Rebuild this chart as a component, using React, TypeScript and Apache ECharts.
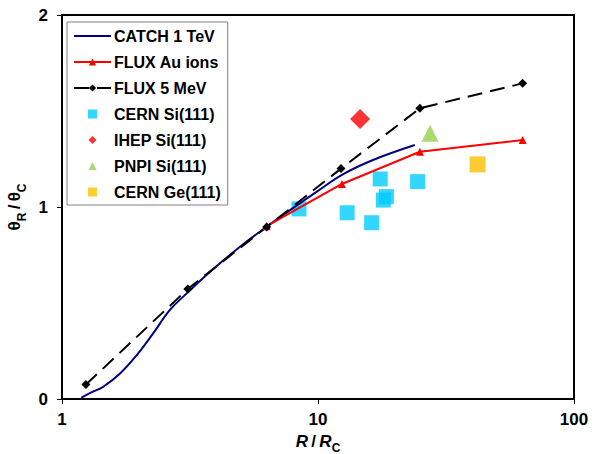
import React, { useEffect, useRef } from "react";
import * as echarts from "echarts";

const catchX = [1.19, 1.32, 1.45, 1.69, 1.96, 2.27, 2.64, 3.07, 3.79, 4.96, 6.3, 7.3, 9.9, 12.5, 16.4, 23.9];
const catchY = [0.007, 0.038, 0.064, 0.134, 0.229, 0.342, 0.464, 0.55, 0.663, 0.793, 0.897, 0.958, 1.08, 1.17, 1.245, 1.323];

const fluxAuX = [6.3, 12.4, 25, 63];
const fluxAuY = [0.9, 1.12, 1.288, 1.349];

const flux5X = [1.24, 3.1, 6.3, 12.3, 25, 63];
const flux5Y = [0.075, 0.573, 0.896, 1.2, 1.514, 1.644];

const cernSiX = [8.43, 13.0, 16.2, 17.5, 18.0, 18.5, 24.5];
const cernSiY = [0.99, 0.97, 0.918, 1.146, 1.036, 1.054, 1.132];

const ihepX = [14.6];
const ihepY = [1.458];

const pnpiX = [27.4];
const pnpiY = [1.384];

const cernGeX = [42.0];
const cernGeY = [1.222];

const yTicks = [0, 1, 2];

const zip = (xs: number[], ys: number[]) => xs.map((x, i) => [x, ys[i]]);

// legend icons: small marker centred in a 37x9 box (corner points fix the box)
const BOX = "M0,0L0,0M37,9L37,9";
const iconSquare = "path://" + BOX + "M14,0h9v9h-9z";
const iconDiamond = "path://" + BOX + "M18.5,0.5L22.5,4.5L18.5,8.5L14.5,4.5z";
const iconTriangle = "path://" + BOX + "M18.5,0.5L22.5,8.5L14.5,8.5z";

export default function App() {
  const ref = useRef<HTMLDivElement>(null);
  useEffect(() => {
    if (!ref.current) return;
    const chart = echarts.init(ref.current, null, { renderer: "svg" });
    const font = "Arial, 'Liberation Sans', sans-serif";
    const nameRich = {
      i: { fontFamily: font, fontWeight: "bold", fontStyle: "italic", fontSize: 17, color: "#000", lineHeight: 20 },
      t: { fontFamily: font, fontWeight: "bold", fontSize: 17, color: "#000", lineHeight: 20 },
      n: { fontFamily: font, fontWeight: "bold", fontSize: 17, color: "#000", lineHeight: 20 },
      s: { fontFamily: font, fontWeight: "bold", fontSize: 12, color: "#000", lineHeight: 20, verticalAlign: "bottom", padding: [0, 0, -3, 0] },
    };
    chart.setOption({
      animation: false,
      backgroundColor: "#fff",
      textStyle: { fontFamily: font },
      grid: {
        left: 62,
        top: 15,
        right: 18,
        bottom: 55,
        show: true,
        borderColor: "#000",
        borderWidth: 2,
        backgroundColor: "transparent",
        containLabel: false,
        outerBoundsMode: "none",
      },
      legend: {
        orient: "vertical",
        left: 67,
        top: 22,
        itemWidth: 37,
        itemHeight: 9,
        itemGap: 10,
        symbolKeepAspect: true,
        padding: [6, 7, 5, 6],
        borderColor: "#808080",
        borderWidth: 1,
        backgroundColor: "#fff",
        textStyle: { fontFamily: font, fontWeight: "bold", fontSize: 16, color: "#000", padding: [0, 0, 0, -2] },
        data: [
          { name: "CATCH 1 TeV", itemStyle: { opacity: 0 } },
          "FLUX Au ions",
          "FLUX 5 MeV",
          { name: "CERN Si(111)", icon: iconSquare },
          { name: "IHEP Si(111)", icon: iconDiamond },
          { name: "PNPI Si(111)", icon: iconTriangle },
          { name: "CERN Ge(111)", icon: iconSquare },
        ],
      },
      xAxis: {
        type: "log",
        logBase: 10,
        min: 1,
        max: 100,
        splitLine: { show: false },
        minorTick: { show: false },
        axisLine: { show: true, lineStyle: { color: "#000", width: 2 } },
        axisTick: { show: true, length: 5, lineStyle: { color: "#000", width: 1 } },
        axisLabel: { fontFamily: font, fontWeight: "bold", fontSize: 17, color: "#000", margin: 12 },
        name: "{i|R} {n|/} {i|R}{s|C}",
        nameLocation: "middle",
        nameGap: 31,
        nameTextStyle: { rich: nameRich },
      },
      yAxis: {
        type: "value",
        min: yTicks[0],
        max: yTicks[yTicks.length - 1],
        interval: 1,
        splitLine: { show: false },
        axisLine: { show: true, lineStyle: { color: "#000", width: 2 } },
        axisTick: { show: true, length: 5, lineStyle: { color: "#000", width: 1 } },
        axisLabel: { fontFamily: font, fontWeight: "bold", fontSize: 17, color: "#000", margin: 14 },
        name: "{t|θ}{s|R} {n|/} {t|θ}{s|C}",
        nameLocation: "middle",
        nameRotate: 90,
        nameGap: 25,
        nameTextStyle: { rich: nameRich, padding: [0, 0, 12, 0] },
      },
      series: [
        {
          name: "CATCH 1 TeV",
          type: "line",
          data: zip(catchX, catchY),
          smooth: 0.4,
          symbol: "none",
          lineStyle: { color: "#000080", width: 2 },
          itemStyle: { color: "#000080" },
        },
        {
          name: "FLUX Au ions",
          type: "line",
          data: zip(fluxAuX, fluxAuY),
          symbol: "triangle",
          symbolSize: 8,
          lineStyle: { color: "#ff0000", width: 2 },
          itemStyle: { color: "#ff0000" },
        },
        {
          name: "FLUX 5 MeV",
          type: "line",
          data: zip(flux5X, flux5Y),
          symbol: "diamond",
          symbolSize: 9,
          lineStyle: { color: "#000", width: 2, type: [15, 8] },
          itemStyle: { color: "#000" },
        },
        {
          name: "CERN Si(111)",
          type: "scatter",
          data: zip(cernSiX, cernSiY),
          symbol: "rect",
          symbolSize: 15,
          itemStyle: { color: "#00ccff" },
        },
        {
          name: "IHEP Si(111)",
          type: "scatter",
          data: zip(ihepX, ihepY),
          symbol: "diamond",
          symbolSize: 20,
          itemStyle: { color: "#ff0000" },
        },
        {
          name: "PNPI Si(111)",
          type: "scatter",
          data: zip(pnpiX, pnpiY),
          symbol: "triangle",
          symbolSize: 17,
          itemStyle: { color: "#92d050" },
        },
        {
          name: "CERN Ge(111)",
          type: "scatter",
          data: zip(cernGeX, cernGeY),
          symbol: "rect",
          symbolSize: 16,
          itemStyle: { color: "#ffc000" },
        },
      ],
    });
    return () => chart.dispose();
  }, []);
  return <div ref={ref} style={{ width: 592, height: 454, position: "absolute", left: 0, top: 0 }} />;
}
